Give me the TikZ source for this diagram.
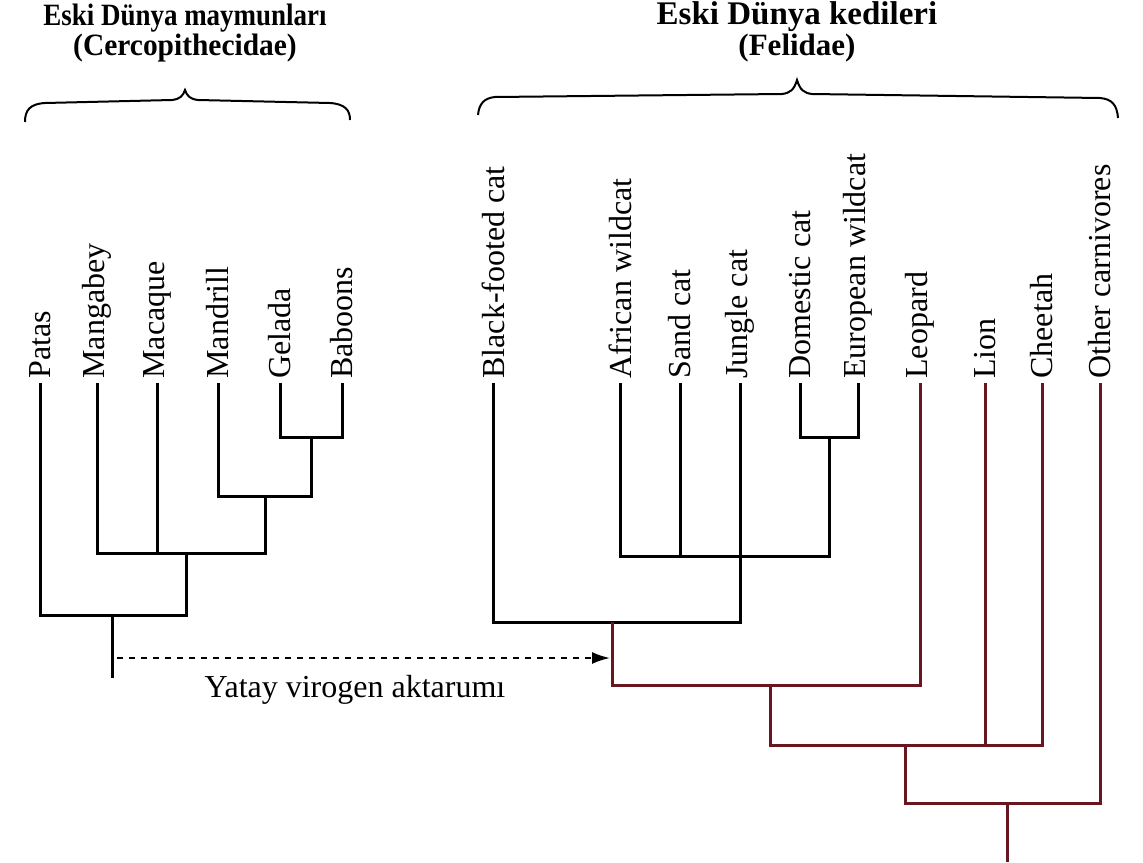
\documentclass[tikz,border=0pt]{standalone}
\usepackage{fontspec}
\setmainfont{Liberation Serif}
\usetikzlibrary{arrows.meta}
\definecolor{branchred}{RGB}{105,22,32}
\begin{document}
\begin{tikzpicture}[x=0.5pt,y=-0.5pt,
  leaf/.style={rotate=90,anchor=west,inner sep=2pt,font=\fontsize{16}{18}\selectfont},
  tree/.style={line width=1.5pt,black},
  redtree/.style={line width=1.5pt,branchred},
  brace/.style={line width=1pt,black},
  titleblock/.style={align=center,inner sep=1pt,font=\fontsize{15.5}{13.5}\selectfont\bfseries}]
\useasboundingbox (0,0) rectangle (1143,862);
% titles
\node[titleblock] (ptitle) at (185,33) {\scalebox{0.87}[1]{Eski Dünya maymunları}\\\scalebox{0.95}[1]{(Cercopithecidae)}};
\node[titleblock] (ctitle) at (797,32) {{\fontsize{16.5}{13.5}\selectfont Eski Dünya kedileri}\\(Felidae)};
% braces
\draw[brace] (25,122) .. controls (25,110) and (30,104) .. (45,103) -- (172,100) .. controls (180,99) and (183,96) .. (185,90) .. controls (187,96) and (190,99) .. (198,100) -- (330,103) .. controls (345,104) and (350,110) .. (350,120);
\draw[brace] (478,115) .. controls (479,104) and (484,98) .. (495,97) -- (782,94) .. controls (790,93) and (794,90) .. (797,80) .. controls (800,90) and (804,93) .. (812,94) -- (1100,98) .. controls (1112,99) and (1117,105) .. (1118,118);
% primate leaves
\node[leaf] (patas) at (40,383) {Patas};
\node[leaf] (mangabey) at (97,383) {Mangabey};
\node[leaf] (macaque) at (157,383) {Macaque};
\node[leaf] (mandrill) at (218,383) {Mandrill};
\node[leaf] (gelada) at (280,383) {Gelada};
\node[leaf] (baboons) at (342,383) {Baboons};
% cat leaves
\node[leaf] (blackfooted) at (493,383) {Black-footed cat};
\node[leaf] (african) at (620,383) {African wildcat};
\node[leaf] (sand) at (680,383) {Sand cat};
\node[leaf] (jungle) at (740,383) {Jungle cat};
\node[leaf] (domestic) at (800,383) {Domestic cat};
\node[leaf] (european) at (858,383) {European wildcat};
\node[leaf] (leopard) at (920,383) {Leopard};
\node[leaf] (lion) at (985,383) {Lion};
\node[leaf] (cheetah) at (1042,383) {Cheetah};
\node[leaf] (other) at (1100,383) {Other carnivores};
% primate tree
\coordinate (gb) at (311,437);
\coordinate (mgb) at (265,496);
\coordinate (mmm) at (186,553);
\coordinate (prim) at (112,615);
\coordinate (primroot) at (112,678);
\draw[tree] (gelada.west) |- (gb) -| (baboons.west);
\draw[tree] (mandrill.west) |- (mgb) -| (gb);
\draw[tree] (mangabey.west) |- (mmm) -| (mgb);
\draw[tree] (macaque.west) -- (macaque.west |- mmm);
\draw[tree] (patas.west) |- (prim) -| (mmm);
\draw[tree] (prim) -- (primroot);
% cat tree
\coordinate (de) at (829,437);
\coordinate (wild) at (740,556);
\coordinate (fel) at (612,622);
\coordinate (fl) at (770,685);
\coordinate (flc) at (905,745);
\coordinate (all) at (1007,803);
\coordinate (allroot) at (1007,862);
\draw[tree] (domestic.west) |- (de) -| (european.west);
\draw[tree] (african.west) |- (wild) -| (de);
\draw[tree] (sand.west) -- (sand.west |- wild);
\draw[tree] (jungle.west) -- (jungle.west |- wild);
\draw[tree] (blackfooted.west) |- (fel) -| (wild);
\draw[redtree] (fel) |- (fl) -| (leopard.west);
\draw[redtree] (fl) |- (flc) -| (cheetah.west);
\draw[redtree] (lion.west) -- (lion.west |- flc);
\draw[redtree] (flc) |- (all) -| (other.west);
\draw[redtree] (all) -- (allroot);
% horizontal virogen transfer
\coordinate (hgtA) at (117,658);
\coordinate (hgtB) at (610,658);
\draw[line width=1pt,dashed,-{Latex[length=9pt,width=6pt]}] (hgtA) -- (hgtB);
\node[font=\fontsize{16}{18}\selectfont] (hgtlabel) at (355,690) {Yatay virogen aktarumı};
\end{tikzpicture}
\end{document}
